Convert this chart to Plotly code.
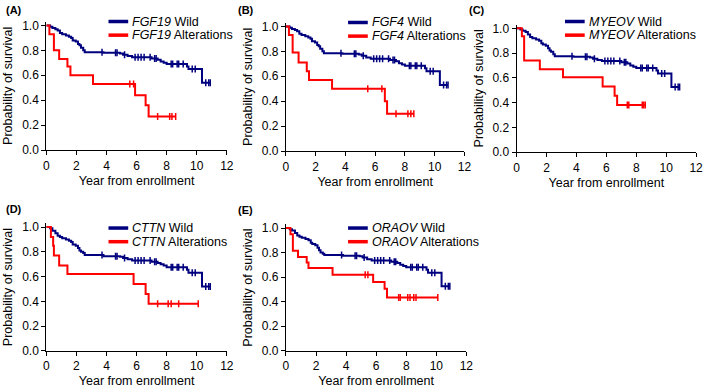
import numpy as np
import plotly.graph_objects as go

# ---------------- data ----------------
genes = ["FGF19", "FGF4", "MYEOV", "CTTN", "ORAOV"]
panel_labels = ["(A)", "(B)", "(C)", "(D)", "(E)"]

x_ticks = [0, 2, 4, 6, 8, 10, 12]
y_ticks = [0.0, 0.2, 0.4, 0.6, 0.8, 1.0]

wild_times = [0, 0.25, 0.4, 0.6, 0.75, 0.9, 1.05, 1.3, 1.5, 1.65, 1.75, 1.95, 2.1, 2.2, 2.3,
              2.45, 2.55, 3.8, 4.9, 5.1, 5.4, 5.7, 7.0, 7.4, 7.6, 7.8, 8.0, 9.35, 9.45, 10.35, 10.9]
wild_surv_A = [1.0, .99, .98, .97, .96, .94, .93, .92, .91, .90, .88, .87, .85, .84, .82,
               .80, .785, .78, .775, .765, .755, .745, .735, .725, .71, .70, .69, .67, .65, .54, .54]
wild_surv_B = [1.0, .99, .98, .97, .96, .94, .93, .92, .91, .90, .88, .87, .85, .84, .82,
               .80, .785, .78, .775, .765, .75, .74, .73, .72, .705, .695, .685, .665, .64, .53, .53]
wild_surv_C = [1.0, .99, .98, .97, .95, .93, .92, .91, .90, .88, .87, .86, .84, .82, .81,
               .79, .775, .77, .765, .755, .745, .735, .725, .715, .70, .69, .68, .66, .635, .525, .525]
wild_surv_D = [1.0, .99, .97, .95, .93, .92, .91, .90, .89, .88, .86, .85, .83, .81, .80,
               .79, .775, .765, .76, .75, .74, .73, .72, .71, .70, .69, .675, .655, .63, .52, .52]
wild_surv_E = [1.0, .99, .98, .96, .94, .93, .92, .91, .90, .88, .87, .86, .84, .82, .80,
               .79, .78, .775, .77, .76, .745, .735, .725, .715, .70, .69, .68, .66, .635, .525, .525]
wild_censor = [3.7, 4.6, 4.7, 5.2, 5.9, 6.1, 6.3, 6.5, 6.9, 7.2, 7.3, 8.3, 8.4, 8.7, 8.8,
               9.1, 9.7, 9.9, 10.6, 10.8, 10.9]

alt_times_A = [0, 0.2, 0.5, 0.85, 1.4, 1.6, 3.1, 5.9, 6.6, 6.8, 8.6]
alt_surv_A = [1.0, .93, .80, .73, .67, .60, .53, .44, .36, .27, .27]
alt_censor_A = [5.55, 5.8, 7.4, 8.2, 8.35, 8.6]

alt_times_B = [0, 0.2, 0.45, 0.85, 1.4, 1.55, 3.1, 6.65, 6.8, 8.6]
alt_surv_B = [1.0, .93, .79, .71, .64, .57, .50, .40, .30, .30]
alt_censor_B = [5.5, 6.45, 7.4, 8.2, 8.4, 8.6]

alt_times_C = [0, 0.35, 0.5, 1.55, 3.1, 5.75, 6.55, 6.72, 8.6]
alt_surv_C = [1.0, .935, .74, .67, .605, .53, .455, .38, .38]
alt_censor_C = [7.4, 7.5, 8.4, 8.5, 8.6]

alt_times_D = [0, 0.3, 0.45, 0.5, 0.85, 1.4, 5.8, 6.6, 6.8, 10.1]
alt_surv_D = [1.0, .92, .85, .77, .69, .62, .54, .46, .38, .38]
alt_censor_D = [7.4, 8.1, 8.3, 8.8, 10.1]

alt_times_E = [0, 0.3, 0.46, 0.8, 1.38, 1.5, 3.1, 5.8, 6.56, 6.72, 10.1]
alt_surv_E = [1.0, .95, .815, .765, .72, .675, .62, .56, .505, .435, .435]
alt_censor_E = [5.27, 5.45, 7.5, 7.6, 8.1, 8.25, 8.5, 8.65, 10.1]

wild_survs = [wild_surv_A, wild_surv_B, wild_surv_C, wild_surv_D, wild_surv_E]
alt_times = [alt_times_A, alt_times_B, alt_times_C, alt_times_D, alt_times_E]
alt_survs = [alt_surv_A, alt_surv_B, alt_surv_C, alt_surv_D, alt_surv_E]
alt_censors = [alt_censor_A, alt_censor_B, alt_censor_C, alt_censor_D, alt_censor_E]

# ---------------- layout geometry (pixels) ----------------
W, H = 709, 388
# left px, right px, px of y=0, px of y=1
geom = [(44, 227, 151, 23), (287, 468, 152, 24), (521, 703, 153, 26),
        (44, 227, 357, 230), (287, 470, 357, 231)]
legend_pos = [(107, 19), (350, 20), (570, 19), (107, 231), (350, 231)]
label_pos = [(1, 7), (236, 7), (471, 7), (1, 211), (236, 212)]
YTOP = 1.03

WILD = "#00007F"
ALT = "#FF0000"
FONT = "Liberation Sans, Arial, sans-serif"


def at(times, surv, t):
    idx = np.searchsorted(np.asarray(times), np.asarray(t), side="right") - 1
    return np.asarray(surv)[idx]


fig = go.Figure()
shapes, annotations = [], []

for i in range(5):
    sfx = "" if i == 0 else str(i + 1)
    xa, ya = "x" + sfx, "y" + sfx
    x0, x1, py0, py1 = geom[i]
    ytop_px = py0 - YTOP * (py0 - py1)

    fig.add_trace(go.Scatter(x=wild_times, y=wild_survs[i], mode="lines", line_shape="hv",
                             line=dict(color=WILD, width=2), xaxis=xa, yaxis=ya,
                             showlegend=False, hoverinfo="skip"))
    fig.add_trace(go.Scatter(x=wild_censor, y=at(wild_times, wild_survs[i], wild_censor),
                             mode="markers", marker=dict(symbol="line-ns", size=5,
                             line=dict(color=WILD, width=1.5)), xaxis=xa, yaxis=ya,
                             showlegend=False, hoverinfo="skip"))
    fig.add_trace(go.Scatter(x=alt_times[i], y=alt_survs[i], mode="lines", line_shape="hv",
                             line=dict(color=ALT, width=2), xaxis=xa, yaxis=ya,
                             showlegend=False, hoverinfo="skip"))
    fig.add_trace(go.Scatter(x=alt_censors[i], y=at(alt_times[i], alt_survs[i], alt_censors[i]),
                             mode="markers", marker=dict(symbol="line-ns", size=5,
                             line=dict(color=ALT, width=1.5)), xaxis=xa, yaxis=ya,
                             showlegend=False, hoverinfo="skip"))

    axis_common = dict(showline=True, linecolor="black", linewidth=1.3, ticks="outside",
                       ticklen=4, tickwidth=1.3, tickcolor="black", showgrid=False,
                       zeroline=False, tickfont=dict(family=FONT, size=12, color="black"))
    fig.update_layout(**{
        "xaxis" + sfx: dict(axis_common, domain=[x0 / W, x1 / W], range=[0, 12],
                            tickvals=x_ticks, anchor=ya,
                            title=dict(text="Year from enrollment", standoff=4,
                                       font=dict(family=FONT, size=12.5, color="black"))),
        "yaxis" + sfx: dict(axis_common, domain=[1 - py0 / H, 1 - ytop_px / H],
                            range=[0, YTOP], tickvals=y_ticks, tickformat=".1f", anchor=xa,
                            title=dict(text="Probability of survival", standoff=6,
                                       font=dict(family=FONT, size=12.5, color="black"))),
    })

    # legend (drawn per panel)
    lx, ly = legend_pos[i]
    for j, (col, txt) in enumerate([(WILD, "Wild"), (ALT, "Alterations")]):
        yy = 1 - (ly + 14 * j) / H
        shapes.append(dict(type="line", xref="paper", yref="paper", x0=lx / W, x1=(lx + 20) / W,
                           y0=yy, y1=yy, line=dict(color=col, width=3.5)))
        annotations.append(dict(xref="paper", yref="paper", x=(lx + 22) / W, y=yy,
                                xanchor="left", yanchor="middle", showarrow=False,
                                text="<i>%s</i> %s" % (genes[i], txt),
                                font=dict(family=FONT, size=12.5, color="black")))
    # panel label
    px, pyy = label_pos[i]
    annotations.append(dict(xref="paper", yref="paper", x=px / W, y=1 - pyy / H,
                            xanchor="left", yanchor="middle", showarrow=False,
                            text="<b>%s</b>" % panel_labels[i],
                            font=dict(family=FONT, size=11, color="black")))

fig.update_layout(width=W, height=H, margin=dict(l=0, r=0, t=0, b=0),
                  paper_bgcolor="white", plot_bgcolor="white",
                  shapes=shapes, annotations=annotations, showlegend=False)
fig.write_html("out.html", config={"displayModeBar": False},
               post_script="document.body.style.margin='0px';document.body.style.overflow='hidden';")
